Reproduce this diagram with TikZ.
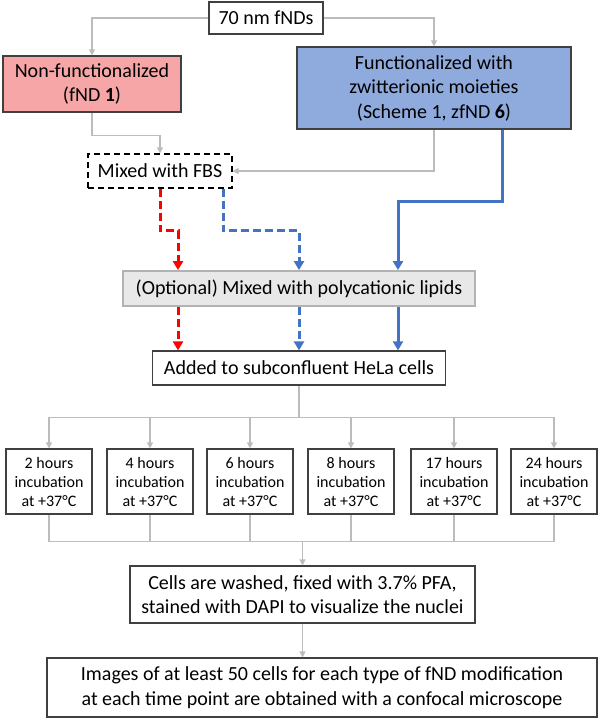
\documentclass[tikz,border=0pt]{standalone}
\usepackage{fontspec}
\setmainfont{Carlito}
\usetikzlibrary{arrows.meta}
\definecolor{pinkfill}{RGB}{246,166,166}
\definecolor{bluefill}{RGB}{143,170,220}
\definecolor{blueline}{RGB}{68,114,196}
\definecolor{greyline}{RGB}{188,188,188}
\definecolor{boxline}{RGB}{64,64,64}

\begin{document}
\begin{tikzpicture}[x=1pt,y=-1pt]
\pgfmathsetmacro{\rowY}{481.5}

\tikzstyle{box}=[draw=boxline,line width=1.2pt,align=center,inner sep=2pt,font=\fontsize{20}{24.5}\selectfont]
\tikzstyle{tbox}=[box,minimum width=86pt,minimum height=65pt,font=\fontsize{16}{19}\selectfont]
\tikzstyle{gplain}=[greyline,line width=1.2pt]
\tikzstyle{gline}=[gplain,-{Triangle[width=6pt,length=6pt]}]
\tikzstyle{colline}=[line width=3pt,-{Triangle[width=10pt,length=9pt]}]
\tikzstyle{redline}=[colline,red,dash pattern=on 8pt off 4pt]
\tikzstyle{bluedash}=[colline,blueline,dash pattern=on 8pt off 4pt]
\tikzstyle{bluesolid}=[colline,blueline]

\useasboundingbox (0,0) rectangle (600,718);

\node[box,minimum width=114pt,minimum height=32pt] (fnds) at (266,18) {70 nm fNDs};
\node[box,fill=pinkfill,minimum width=178pt,minimum height=56pt] (nonf) at (92,84) {Non-functionalized\\(fND \textbf{1})};
\node[box,fill=bluefill,minimum width=274pt,minimum height=82pt] (zwit) at (434,88) {Functionalized with\\zwitterionic moieties\\(Scheme 1, zfND \textbf{6})};
\node[box,draw=black,dash pattern=on 6pt off 4pt,minimum width=144pt,minimum height=34pt] (fbs) at (160,171) {Mixed with FBS};
\node[box,fill=gray!18,draw=gray!60,line width=1.8pt,minimum width=352pt,minimum height=35pt] (lipid) at (299,288.5) {(Optional) Mixed with polycationic lipids};
\node[box,minimum width=293pt,minimum height=34pt] (hela) at (299,368) {Added to subconfluent HeLa cells};
\foreach \h/\x [count=\i] in {2/49,4/150,6/250,8/351,17/454,24/554}
  \node[tbox] (t\i) at (\x,\rowY) {\h\ hours\\incubation\\at +37°C};
\node[box,minimum width=345pt,minimum height=57pt] (fix) at (302.5,594.5) {Cells are washed, fixed with 3.7\% PFA,\\stained with DAPI to visualize the nuclei};
\node[box,minimum width=550pt,minimum height=59pt] (img) at (322,687.5) {Images of at least 50 cells for each type of fND modification\\at each time point are obtained with a confocal microscope};

\draw[gline] (fnds.west) -| (nonf.north);
\draw[gline] (fnds.east) -| (zwit.north);
\draw[gline] (nonf.south) -- ++(0,23) -| (fbs.north);
\draw[gline] (zwit.south) |- (fbs.east);

\draw[bluesolid] ([xshift=68pt]zwit.south) -- ++(0,72) -| ([xshift=99pt]lipid.north);
\draw[redline] (fbs.south) -- ++(0,42) -| ([xshift=-121pt]lipid.north);
\draw[bluedash] ([xshift=63pt]fbs.south) -- ++(0,42) -| (lipid.north);
\foreach \s/\st in {-121/redline,0/bluedash,99/bluesolid}
  \draw[\st] ([xshift=\s pt]lipid.south) coordinate (from) -- (from |- hela.north);

\draw[gplain] (hela.south) -- ++(0,32) coordinate (split);
\foreach \i in {1,...,6}
  \draw[gline] (split) -| (t\i.north);
\foreach \i in {1,...,6}
  \draw[gplain] (t\i.south) -- ++(0,27) coordinate (j\i);
\draw[gplain] (j1) -- (j6);
\draw[gline] (j1 -| fix.north) -- (fix.north);
\draw[gline] (fix.south) -- (fix.south |- img.north);
\end{tikzpicture}
\end{document}
